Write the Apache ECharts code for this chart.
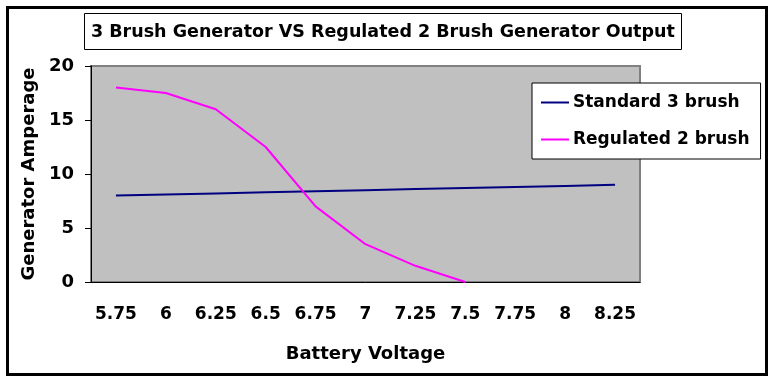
<!DOCTYPE html>
<html>
<head>
<meta charset="utf-8">
<script src="https://cdn.jsdelivr.net/npm/echarts@6/dist/echarts.min.js"></script>
<style>
html, body { margin: 0; padding: 0; background: #fff; }
#chart { width: 772px; height: 377px; }
</style>
</head>
<body>
<div id="chart"></div>
<script>
var voltages = ['5.75', '6', '6.25', '6.5', '6.75', '7', '7.25', '7.5', '7.75', '8', '8.25'];
var standard3 = [8, 8.1, 8.2, 8.3, 8.4, 8.5, 8.6, 8.7, 8.8, 8.9, 9];
var regulated2 = [18, 17.5, 16, 12.5, 7, 3.5, 1.5, 0, null, null, null];
var yTicks = [0, 5, 10, 15, 20];

var font = '"DejaVu Sans", Arial, sans-serif';
var myChart = echarts.init(document.getElementById('chart'));
var option = {
	animation: false,
	backgroundColor: '#fff',
	textStyle: { fontFamily: font },
	title: {
		text: '3 Brush Generator VS Regulated 2 Brush Generator Output',
		left: 84,
		top: 13,
		padding: [10, 7, 9, 7],
		borderColor: '#000',
		borderWidth: 1,
		textStyle: { fontFamily: font, fontSize: 17.5, fontWeight: 'bold', color: '#000' }
	},
	legend: {
		orient: 'vertical',
		left: 532,
		top: 83,
		padding: [11, 11, 11, 9],
		itemGap: 20,
		itemWidth: 28,
		itemHeight: 2,
		icon: 'rect',
		backgroundColor: '#fff',
		borderColor: '#000',
		borderWidth: 1,
		textStyle: { fontFamily: font, fontSize: 17, fontWeight: 'bold', color: '#000', padding: [0, 0, 0, -1] },
		data: ['Standard 3 brush', 'Regulated 2 brush']
	},
	grid: {
		left: 91,
		right: 132,
		top: 66,
		bottom: 95,
		show: true,
		backgroundColor: '#c0c0c0',
		borderColor: '#808080',
		borderWidth: 2
	},
	xAxis: {
		type: 'category',
		data: voltages,
		boundaryGap: true,
		name: 'Battery Voltage',
		nameLocation: 'middle',
		nameGap: 63,
		nameTextStyle: { fontFamily: font, fontSize: 18, fontWeight: 'bold', color: '#000' },
		axisLine: { lineStyle: { color: '#000', width: 1 } },
		axisTick: { length: 6, interval: 0, lineStyle: { color: '#000' } },
		axisLabel: { interval: 0, margin: 24, fontFamily: font, fontSize: 17, fontWeight: 'bold', color: '#000' },
		splitLine: { show: false }
	},
	yAxis: {
		type: 'value',
		min: yTicks[0],
		max: yTicks[yTicks.length - 1],
		interval: yTicks[1] - yTicks[0],
		name: 'Generator Amperage',
		nameLocation: 'middle',
		nameGap: 53,
		nameTextStyle: { fontFamily: font, fontSize: 18, fontWeight: 'bold', color: '#000' },
		axisLine: { show: true, lineStyle: { color: '#000', width: 1 } },
		axisTick: { show: true, length: 6, lineStyle: { color: '#000' } },
		axisLabel: { margin: 17, fontFamily: font, fontSize: 18, fontWeight: 'bold', color: '#000' },
		splitLine: { show: false }
	},
	series: [{
		name: 'Standard 3 brush',
		type: 'line',
		data: standard3,
		symbol: 'none',
		color: '#000080',
		lineStyle: { color: '#000080', width: 2 }
	}, {
		name: 'Regulated 2 brush',
		type: 'line',
		data: regulated2,
		symbol: 'none',
		color: '#ff00ff',
		lineStyle: { color: '#ff00ff', width: 2 }
	}],
	graphic: [{
		type: 'rect',
		left: 5,
		top: 5,
		shape: { width: 759, height: 367 },
		style: { fill: 'none', stroke: '#000', lineWidth: 3 },
		silent: true
	}]
};
myChart.setOption(option);
</script>
</body>
</html>
